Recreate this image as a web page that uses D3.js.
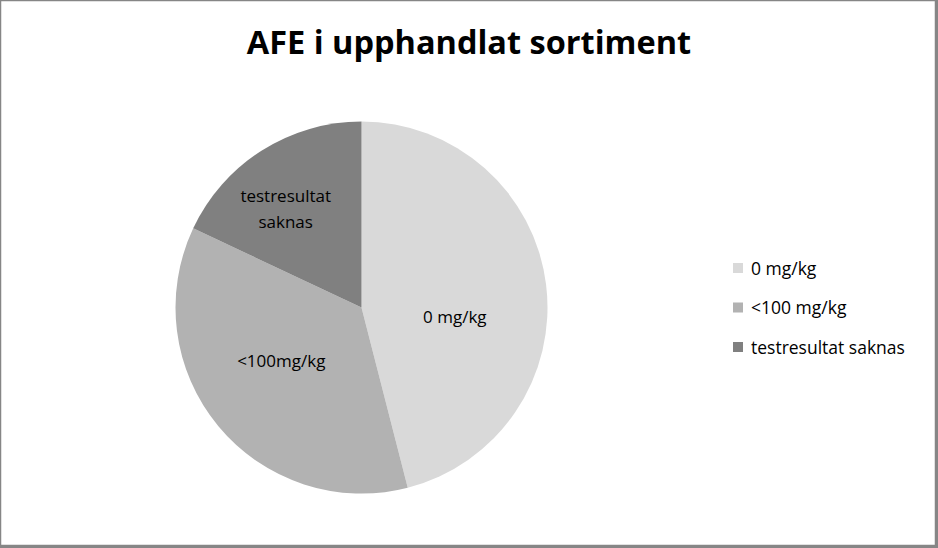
<!DOCTYPE html>
<html>
<head>
<meta charset="utf-8">
<script src="https://cdn.jsdelivr.net/npm/d3@7"></script>
<style>
  body { margin: 0; background: #fff; }
  text { font-family: "Open Sans", "Noto Sans", sans-serif; fill: #000; }
</style>
</head>
<body>
<div id="chart"></div>
<script>
var categories = ['0 mg/kg', '<100 mg/kg', 'testresultat saknas']
var sliceLabels = [['0 mg/kg'], ['<100mg/kg'], ['testresultat', 'saknas']]
var shares = [46, 36, 18]
var colors = ['#d9d9d9', '#b2b2b2', '#808080']

var width = 938, height = 548
var cx = 361.5, cy = 307.5, radius = 186

var svg = d3.select('#chart').append('svg')
    .attr('width', width)
    .attr('height', height)

// frame
svg.append('rect')
    .attr('x', 0.5).attr('y', 0.5)
    .attr('width', width - 3).attr('height', height - 3)
    .style('fill', '#fff')
    .style('stroke', '#868686')
    .style('stroke-width', '1.5px')
svg.append('rect')
    .attr('x', width - 3).attr('y', 0)
    .attr('width', 3).attr('height', height)
    .style('fill', '#868686')
svg.append('rect')
    .attr('x', 0).attr('y', height - 3)
    .attr('width', width).attr('height', 3)
    .style('fill', '#868686')

svg.append('text')
    .attr('x', 469)
    .attr('y', 54)
    .attr('text-anchor', 'middle')
    .style('font-size', '32.5px')
    .style('font-weight', 'bold')
    .text('AFE i upphandlat sortiment')

var pie = d3.pie().sort(null).value(function (d) { return d })
var arc = d3.arc().innerRadius(0).outerRadius(radius)

var g = svg.append('g').attr('transform', 'translate(' + cx + ',' + cy + ')')
var arcs = pie(shares)

g.selectAll('path')
    .data(arcs)
    .enter()
    .append('path')
    .attr('d', arc)
    .style('fill', function (d, i) { return colors[i] })

// label positions inside slices (centroid plus a small nudge)
var labelArc = d3.arc().innerRadius(radius * 0.5).outerRadius(radius * 0.62)
var labelOffsets = [[-10, 23], [0, -13], [-20, -11]]

g.selectAll('text.slice')
    .data(arcs)
    .enter()
    .append('text')
    .attr('class', 'slice')
    .attr('text-anchor', 'middle')
    .style('font-size', '17px')
    .each(function (d, i) {
        var c = labelArc.centroid(d)
        var lines = sliceLabels[i]
        var t = d3.select(this)
        lines.forEach(function (l, j) {
            t.append('tspan')
                .attr('x', c[0] + labelOffsets[i][0])
                .attr('y', c[1] + labelOffsets[i][1] + 6 + (j - (lines.length - 1) / 2) * 26)
                .text(l)
        })
    })

// legend
var legend = svg.append('g').attr('transform', 'translate(733,268)')
var rows = legend.selectAll('g')
    .data(categories)
    .enter()
    .append('g')
    .attr('transform', function (d, i) { return 'translate(0,' + i * 39.5 + ')' })
rows.append('rect')
    .attr('x', 0).attr('y', -5)
    .attr('width', 10).attr('height', 10)
    .style('fill', function (d, i) { return colors[i] })
rows.append('text')
    .attr('x', 18)
    .attr('y', 6.5)
    .style('font-size', '17.5px')
    .text(function (d) { return d })
</script>
</body>
</html>
